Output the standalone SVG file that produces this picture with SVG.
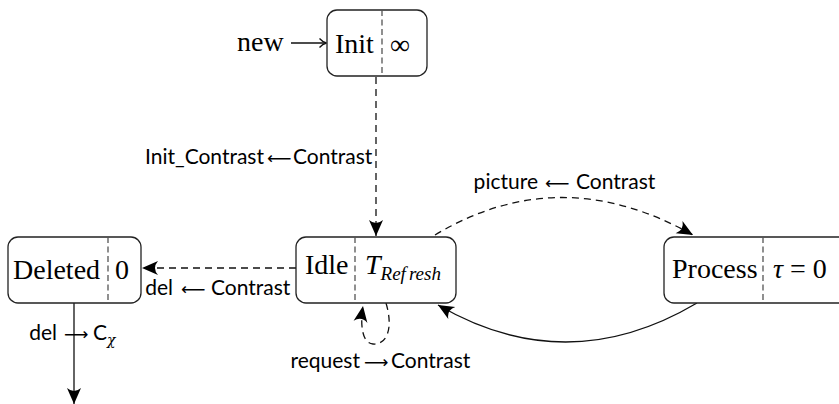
<svg xmlns="http://www.w3.org/2000/svg" width="839" height="404" viewBox="0 0 839 404">
<defs>
<style>
.box{fill:#fff;stroke:#222;stroke-width:1.3}
.div{stroke:#555;stroke-width:1.3;stroke-dasharray:6 3.5;fill:none}
.nt{font-family:"Liberation Serif",serif;font-size:28px;fill:#000}
.it{font-style:italic}
.lb{font-family:Lato,"DejaVu Sans",sans-serif;font-size:21px;fill:#000}
.r{text-anchor:end}
.ar{font-family:"DejaVu Sans",sans-serif;font-size:17px;fill:#000}
.ed{fill:none;stroke:#111;stroke-width:1.3}
.dash{stroke-dasharray:7 5}
</style>
<marker id="ah" markerUnits="userSpaceOnUse" markerWidth="18" markerHeight="16" refX="16" refY="7.5" orient="auto" viewBox="0 0 18 16">
<path d="M0,0.5 Q6,7.5 0,14.5 L16,7.5 Z" fill="#000"/>
</marker>
</defs>

<g id="connectors">
<path class="ed" d="M291,43 H325.5"/>
<path class="ed" d="M319.5,38.5 Q322.5,42 326.5,43 Q322.5,44 319.5,47.5"/>
<path class="ed dash" d="M376,77 V236" marker-end="url(#ah)"/>
<path class="ed dash" d="M296,268 H142" marker-end="url(#ah)"/>
<path class="ed dash" d="M435,235 Q560,160 693,235" marker-end="url(#ah)"/>
<path class="ed" d="M697,303 Q567,380 438,305" marker-end="url(#ah)"/>
<path class="ed dash" d="M386,303 C394,330 386,345 373,344 C362,343 360,325 363,306" marker-end="url(#ah)"/>
<path class="ed" d="M74,303 V404" marker-end="url(#ah)"/>
</g>

<g id="labels">
<text class="lb r" x="264" y="164">Init_Contrast</text>
<text class="ar" x="267" y="164">⟵</text>
<text class="lb" x="293" y="164">Contrast</text>

<text class="lb r" x="538" y="189">picture</text>
<text class="ar" x="545" y="189">⟵</text>
<text class="lb" x="576" y="189">Contrast</text>

<text class="lb r" x="173" y="295">del</text>
<text class="ar" x="181" y="295">⟵</text>
<text class="lb" x="211" y="295">Contrast</text>

<text class="lb r" x="57" y="340">del</text>
<text class="ar" x="64" y="340">⟶</text>
<text class="lb" x="93" y="340">C<tspan dy="5" font-size="14px" font-style="italic" font-family="'DejaVu Serif',serif">χ</tspan></text>

<text class="lb r" x="360" y="368">request</text>
<text class="ar" x="364" y="368">⟶</text>
<text class="lb" x="391" y="368">Contrast</text>

<text class="nt" x="237" y="51">new</text>
</g>

<g id="node-init">
<rect class="box" x="327" y="10" width="100" height="66" rx="10"/>
<line class="div" x1="382" y1="10" x2="382" y2="76"/>
<text class="nt" x="335" y="53">Init</text>
<text class="nt" x="390" y="54" font-size="34px">∞</text>
</g>

<g id="node-idle">
<rect class="box" x="296" y="237" width="160" height="66" rx="10"/>
<line class="div" x1="355" y1="237" x2="355" y2="303"/>
<text class="nt" x="305" y="274">Idle</text>
<text class="nt" x="365" y="274"><tspan class="it">T</tspan><tspan class="it" font-size="19px" dy="6">Ref</tspan><tspan class="it" font-size="19px" dx="3">resh</tspan></text>
</g>

<g id="node-deleted">
<rect class="box" x="8" y="237" width="133" height="66" rx="10"/>
<line class="div" x1="108" y1="237" x2="108" y2="303"/>
<text class="nt" x="13" y="279">Deleted</text>
<text class="nt" x="115" y="279">0</text>
</g>

<g id="node-process">
<rect class="box" x="664" y="237" width="186" height="66" rx="10"/>
<line class="div" x1="763" y1="237" x2="763" y2="303"/>
<text class="nt" x="672" y="278">Process</text>
<text class="nt" x="773" y="278"><tspan class="it">τ</tspan> = 0</text>
</g>
</svg>
